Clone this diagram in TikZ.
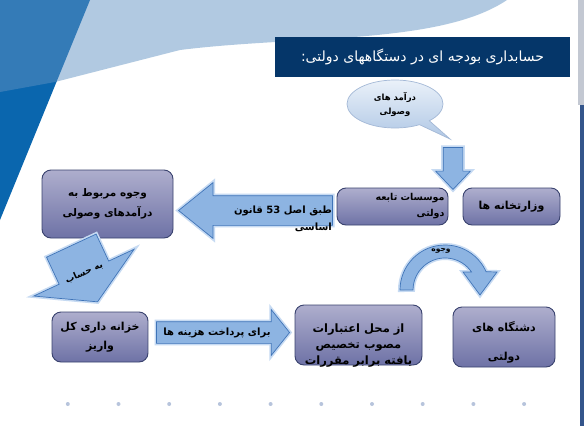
\documentclass[tikz,border=0pt]{standalone}
\usepackage{fontspec}
\newfontfamily\arabicfont[Script=Arabic]{DejaVu Sans}
\TeXXeTstate=1
\usetikzlibrary{shapes.arrows,shapes.callouts}

\definecolor{titlenavy}{HTML}{053669}
\definecolor{deepblue}{HTML}{0A66AE}
\definecolor{wedgeblue}{RGB}{96,145,194}
\definecolor{edgegray}{HTML}{C3C8D2}
\definecolor{edgeblue}{HTML}{34558B}
\definecolor{dotgray}{HTML}{B7C4DC}
\definecolor{boxtop}{HTML}{AEAECD}
\definecolor{boxbot}{HTML}{6E72A6}
\definecolor{boxline}{HTML}{39426E}
\definecolor{arrowfill}{HTML}{8DB4E2}
\definecolor{arrowline}{HTML}{3F74B8}
\definecolor{glowblue}{HTML}{C6DAF2}
\definecolor{bubbletop}{HTML}{EAF1F9}
\definecolor{bubblebot}{HTML}{AFC7E5}
\definecolor{bubbleline}{HTML}{A3B8D6}

\newcommand{\fa}[1]{\beginR #1\endR}

\tikzset{
  box/.style={draw=boxline, line width=0.9pt, rounded corners=9pt,
    top color=boxtop, bottom color=boxbot, align=center, inner sep=2pt,
    font=\arabicfont\bfseries\fontsize{11}{19}\selectfont},
  boxtext/.style={align=center, inner sep=0pt,
    font=\arabicfont\bfseries\fontsize{11.5}{16}\selectfont},
  blockarrow/.style={single arrow, draw=arrowline, fill=arrowfill,
    line width=0.7pt, inner xsep=0pt, minimum width=0pt,
    preaction={draw=glowblue, line width=4pt}},
  arrowtext/.style={inner sep=0pt,
    font=\arabicfont\bfseries\fontsize{10}{17}\selectfont},
  bubble/.style={ellipse callout, draw=bubbleline, line width=0.7pt,
    top color=bubbletop, bottom color=bubblebot, align=center,
    minimum width=96pt, minimum height=48pt, inner sep=0pt,
    font=\arabicfont\bfseries\fontsize{8.5}{14}\selectfont}
}

\begin{document}
\begin{tikzpicture}[x=1pt,y=-1pt]
  \useasboundingbox (0,0) rectangle (584,426);

  % slide background
  \fill[white] (0,0) rectangle (584,426);
  \fill[deepblue] (0,0) -- (90,0) -- (0,220) -- cycle;
  \fill[wedgeblue, opacity=0.49] (0,0) -- (507,0)
    .. controls (440,45) and (300,35) .. (180,50) -- (55,82) -- (0,92) -- cycle;
  \fill[edgegray] (578,0) rectangle (584,105);
  \fill[edgeblue] (580,105) rectangle (584,426);
  \foreach \i in {0,...,9}
    \fill[dotgray] (67.8+50.7*\i,404) circle (2);

  % title
  \node[fill=titlenavy, minimum width=295pt, minimum height=40pt, text=white,
    font=\arabicfont\fontsize{14}{16}\selectfont] (title) at (422.5,57)
    {\fa{حسابداری بودجه ای در دستگاههای دولتی:}};

  % boxes
  \node[box, minimum width=131pt, minimum height=68pt,
    font=\arabicfont\bfseries\fontsize{10.5}{20}\selectfont] (vojooh) at (107.5,204)
    {\fa{وجوه مربوط به}\\\fa{درآمدهای وصولی}};
  \node[box, minimum width=111pt, minimum height=37pt, text width=104pt,
    align=right, font=\arabicfont\bfseries\fontsize{9.5}{16}\selectfont]
    (moassesat) at (392.5,206.5) {\fa{موسسات تابعه}\\\fa{دولتی}};
  \node[box, minimum width=97pt, minimum height=37pt] (vezarat) at (511.5,206.5)
    {\fa{وزارتخانه ها}};
  \node[box, minimum width=96pt, minimum height=50pt] (khazane) at (100,337)
    {\fa{خزانه داری کل}\\\fa{واریز}};
  \node[box, minimum width=127pt, minimum height=60pt] (etebarat) at (358.5,335) {};
  \node[boxtext] (etebarattxt) at (358.5,346)
    {\fa{از محل اعتبارات}\\\fa{مصوب تخصیص}\\\fa{یافته برابر مقررات}};
  \node[box, minimum width=102pt, minimum height=60pt] (dastgah) at (504,337) {};
  \node[boxtext, font=\arabicfont\bfseries\fontsize{11}{29}\selectfont]
    (dastgahtxt) at (504,342) {\fa{دشتگاه های}\\\fa{دولتی}};

  % callout
  \node[bubble, callout absolute pointer={(450,139)}] (income) at (395,104)
    {\fa{درآمد های}\\\fa{وصولی}};

  % block arrows
  \node[blockarrow, minimum height=42pt, inner ysep=9.5pt,
    single arrow head extend=7.5pt, single arrow tip angle=86.7,
    rotate=-90, anchor=tip] (down) at (453,190) {};
  \node[blockarrow, minimum height=154pt, inner ysep=14.5pt,
    single arrow head extend=13pt, single arrow tip angle=77.9,
    rotate=180, anchor=tip] (law) at (178,210.5) {};
  \node[arrowtext, anchor=east, align=right] (lawtxt) at (332,218.5)
    {\fa{طبق اصل 53 قانون}\\\fa{اساسی}};
  \node[blockarrow, minimum height=62pt, inner ysep=27pt,
    single arrow head extend=28pt, single arrow tip angle=119.6,
    rotate=-65, anchor=tip] (account) at (97.7,302.2) {};
  \node[arrowtext, rotate=24, font=\arabicfont\bfseries\fontsize{9}{11}\selectfont]
    (accounttxt) at (84,273) {\fa{به حساب}};
  \node[blockarrow, minimum height=133pt, inner ysep=10.5pt,
    single arrow head extend=12pt, single arrow tip angle=102.7,
    anchor=tip] (pay) at (290,332.5) {};
  \node[arrowtext] (paytxt) at (217,333) {\fa{برای پرداخت هزینه ها}};

  % curved arrow
  \path[draw=glowblue, line width=4pt] (400,290) arc[start angle=180, end angle=336, radius=45]
    -- (497,272) -- (480,295) -- (463,272) -- (471.5,272)
    arc[start angle=325.8, end angle=180, radius=32] -- cycle;
  \path[fill=arrowfill, draw=arrowline, line width=0.7pt] (400,290)
    arc[start angle=180, end angle=336, radius=45]
    -- (497,272) -- (480,295) -- (463,272) -- (471.5,272)
    arc[start angle=325.8, end angle=180, radius=32] -- cycle;
  \node[arrowtext, font=\arabicfont\bfseries\fontsize{7.5}{9}\selectfont]
    (funds) at (441,251) {\fa{وجوه}};
\end{tikzpicture}
\end{document}
